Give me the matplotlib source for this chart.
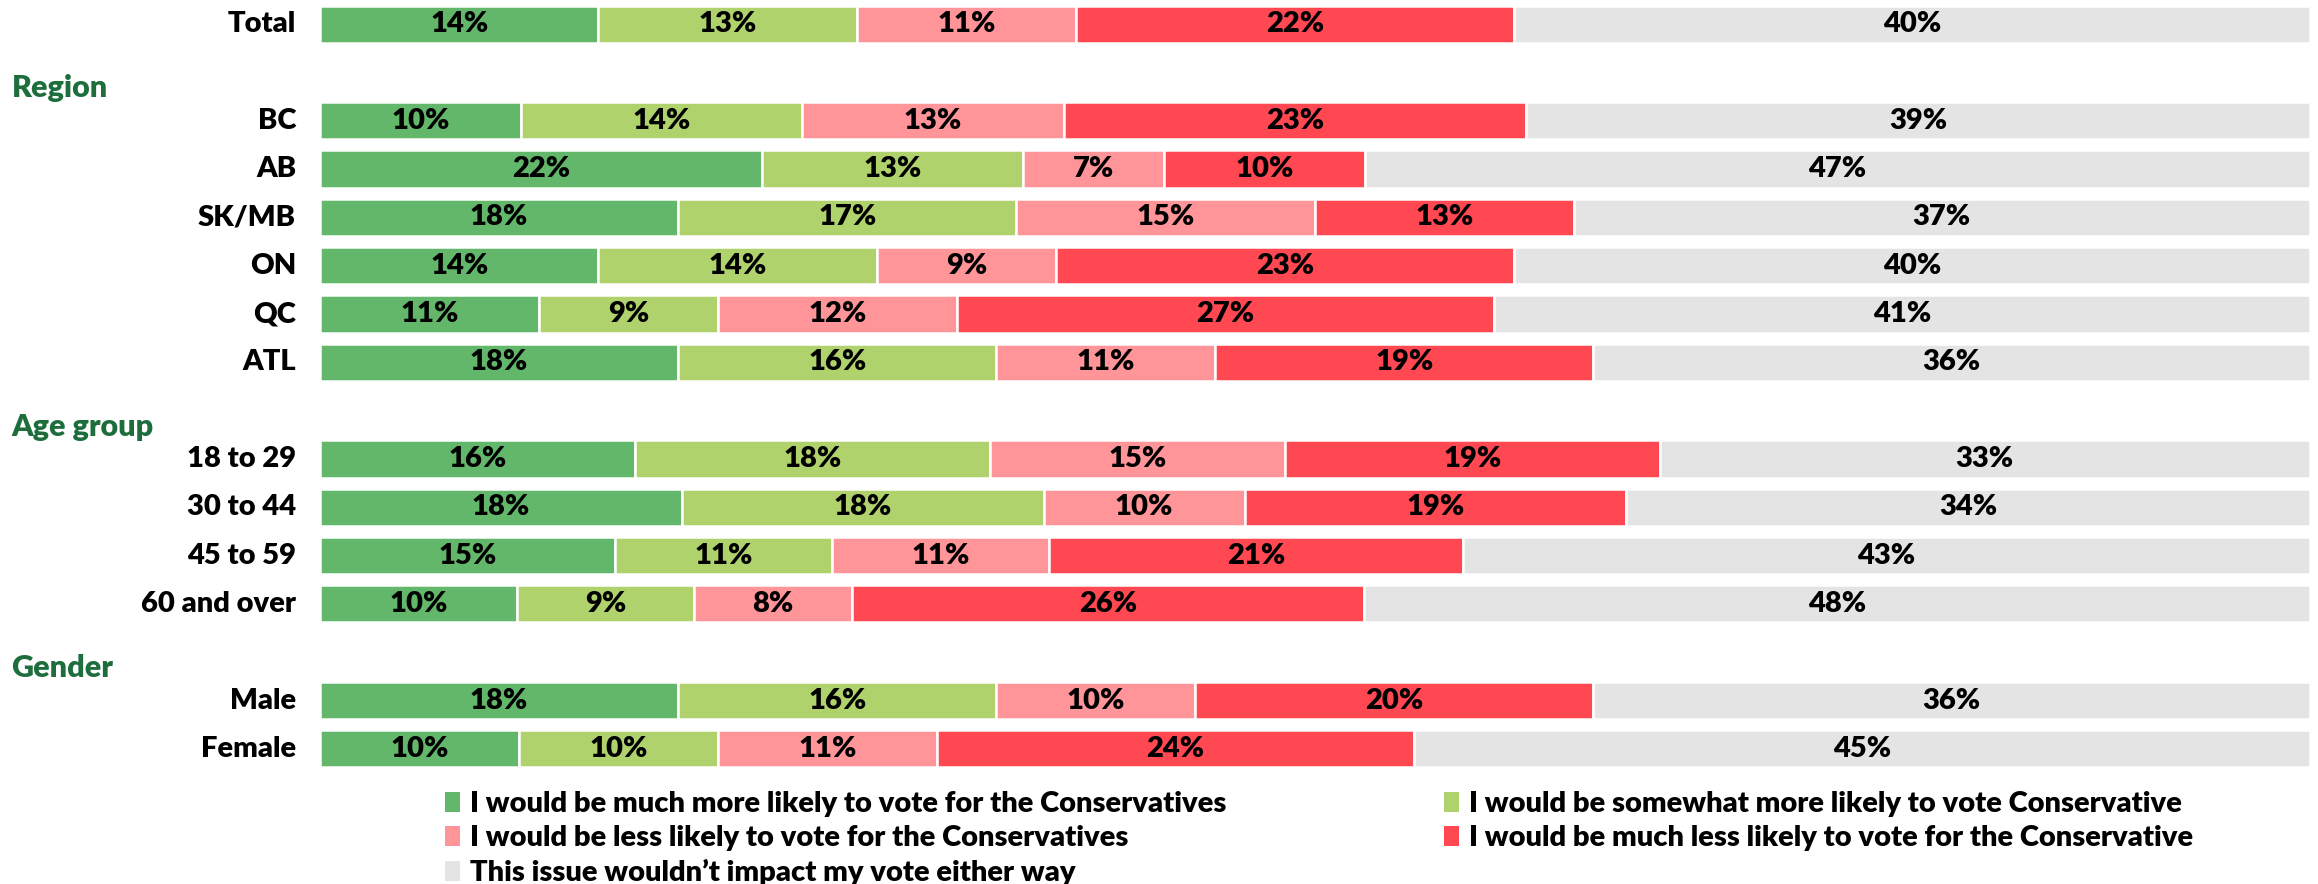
import matplotlib.pyplot as plt
from matplotlib.patches import Patch

plt.rcParams['font.family'] = ['Lato', 'DejaVu Sans']

# rows top to bottom; group headers sit in their own slot
rows = ["Total", "Region", "BC", "AB", "SK/MB", "ON", "QC", "ATL",
        "Age group", "18 to 29", "30 to 44", "45 to 59", "60 and over",
        "Gender", "Male", "Female"]
headers = ["Region", "Age group", "Gender"]

much_more = {"Total": 14, "BC": 10, "AB": 22, "SK/MB": 18, "ON": 14, "QC": 11, "ATL": 18,
             "18 to 29": 16, "30 to 44": 18, "45 to 59": 15, "60 and over": 10,
             "Male": 18, "Female": 10}
somewhat_more = {"Total": 13, "BC": 14, "AB": 13, "SK/MB": 17, "ON": 14, "QC": 9, "ATL": 16,
                 "18 to 29": 18, "30 to 44": 18, "45 to 59": 11, "60 and over": 9,
                 "Male": 16, "Female": 10}
less = {"Total": 11, "BC": 13, "AB": 7, "SK/MB": 15, "ON": 9, "QC": 12, "ATL": 11,
        "18 to 29": 15, "30 to 44": 10, "45 to 59": 11, "60 and over": 8,
        "Male": 10, "Female": 11}
much_less = {"Total": 22, "BC": 23, "AB": 10, "SK/MB": 13, "ON": 23, "QC": 27, "ATL": 19,
             "18 to 29": 19, "30 to 44": 19, "45 to 59": 21, "60 and over": 26,
             "Male": 20, "Female": 24}
no_impact = {"Total": 40, "BC": 39, "AB": 47, "SK/MB": 37, "ON": 40, "QC": 41, "ATL": 36,
             "18 to 29": 33, "30 to 44": 34, "45 to 59": 43, "60 and over": 48,
             "Male": 36, "Female": 45}

series = [much_more, somewhat_more, less, much_less, no_impact]
names = ["I would be much more likely to vote for the Conservatives",
         "I would be somewhat more likely to vote Conservative",
         "I would be less likely to vote for the Conservatives",
         "I would be much less likely to vote for the Conservative",
         "This issue wouldn\u2019t impact my vote either way"]
colors = ["#63b76a", "#afd26d", "#ff9598", "#ff4852", "#e4e4e4"]

fig = plt.figure(figsize=(23.18, 8.84), dpi=100)
ax = fig.add_axes([0.138, 0.1256, 0.8585, 0.8744])

for i, name in enumerate(rows):
    if name in headers:
        ax.text(-0.155, i + 0.33, name, transform=ax.get_yaxis_transform(),
                ha="left", va="center", fontsize=22, fontweight="heavy", color="#1d6e3c")
        continue
    # rounded shares don't always add to 100, the bars are stretched to full width
    total = sum(s[name] for s in series)
    left = 0
    for s, c in zip(series, colors):
        v = s[name] * 100 / total
        ax.barh(i, v, left=left, height=0.77, color=c, edgecolor="white", linewidth=1.8)
        ax.text(left + v / 2, i, f"{s[name]}%", ha="center", va="center",
                fontsize=21, fontweight="heavy", color="black")
        left += v
    ax.text(-0.012, i, name, transform=ax.get_yaxis_transform(), ha="right", va="center",
            fontsize=21, fontweight="heavy")

ax.set_xlim(0, 100)
ax.set_ylim(15.5, -0.5)
ax.axis("off")

handles = [Patch(facecolor=c, edgecolor="none") for c in colors]
leg_kw = dict(frameon=False, loc="upper left", handlelength=0.5, handleheight=0.7,
              handletextpad=0.35, labelspacing=0.28, borderpad=0, borderaxespad=0,
              prop={"size": 21, "weight": "heavy"})
fig.legend([handles[0], handles[2], handles[4]], [names[0], names[2], names[4]],
           bbox_to_anchor=(445 / 2318, 1 - 791 / 884), **leg_kw)
fig.legend([handles[1], handles[3]], [names[1], names[3]],
           bbox_to_anchor=(1444 / 2318, 1 - 791 / 884), **leg_kw)

fig.savefig("out.png", dpi=100)
